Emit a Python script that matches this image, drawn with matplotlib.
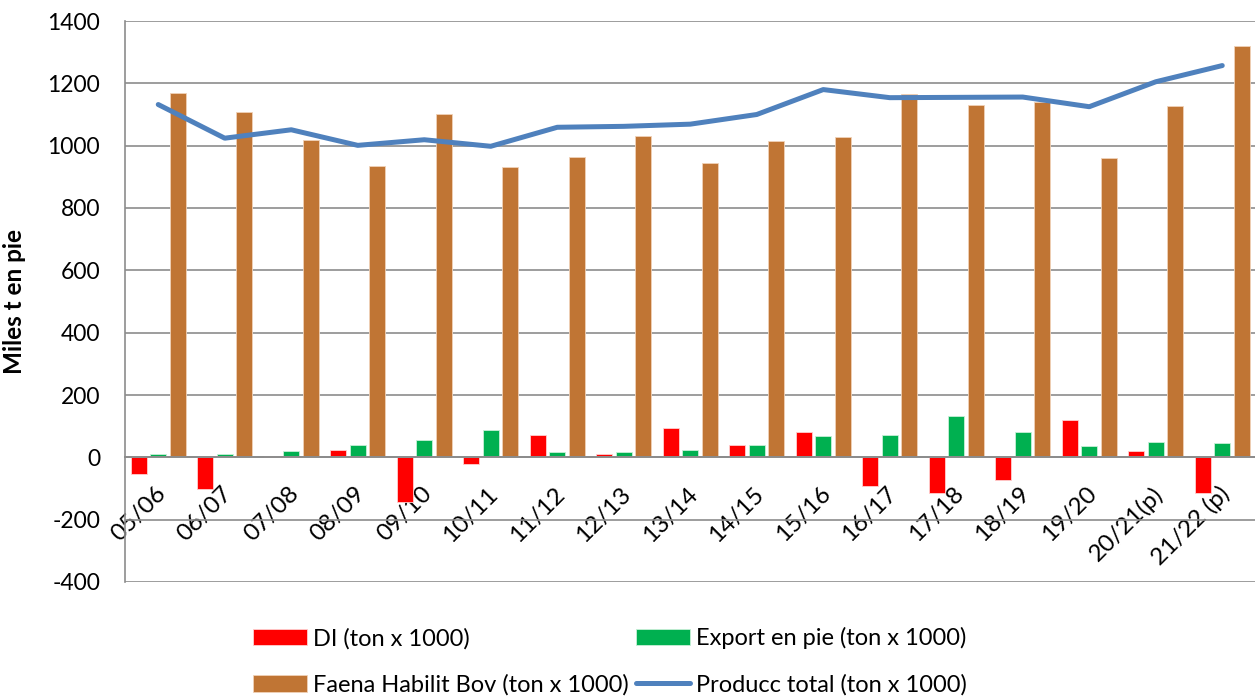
import numpy as np
import matplotlib.pyplot as plt
import matplotlib.transforms as mtransforms

plt.rcParams['font.family'] = ['Lato', 'DejaVu Sans']
plt.rcParams['axes.unicode_minus'] = False

seasons = ['05/06', '06/07', '07/08', '08/09', '09/10', '10/11', '11/12', '12/13', '13/14',
           '14/15', '15/16', '16/17', '17/18', '18/19', '19/20', '20/21(p)', '21/22 (p)']
di = [-52, -101, 5, 23, -143, -20, 72, 12, 94, 39, 82, -93, -114, -72, 119, 20, -116]
export_pie = [10, 12, 20, 41, 56, 88, 18, 17, 24, 41, 68, 72, 134, 81, 36, 50, 45]
faena = [1170, 1108, 1017, 935, 1103, 932, 964, 1030, 943, 1014, 1028, 1167, 1129, 1140, 961, 1126, 1320]
producc_total = [1132, 1024, 1051, 1001, 1019, 998, 1059, 1062, 1069, 1100, 1180, 1154, 1155, 1156, 1125, 1205, 1257]

grid_col = '#8c8c8c'

fig = plt.figure(figsize=(12.55, 7), dpi=100)
ax = fig.add_axes([125 / 1255, 1 - 582 / 700, 1130.5 / 1255, (582 - 21) / 700])

x = np.arange(len(seasons))
w = 0.24
off = 0.29

# bars
b1 = ax.bar(x - off, di, w, color='#ff0000', edgecolor='#ffd0d0', linewidth=0.6, zorder=2,
            label='DI (ton x 1000)')
b2 = ax.bar(x, export_pie, w, color='#00b050', edgecolor='#c8f0d8', linewidth=0.6, zorder=2,
            label='Export en pie (ton x 1000)')
b3 = ax.bar(x + off, faena, w, color='#c07534', edgecolor='#f0d2b8', linewidth=0.6, zorder=2,
            label='Faena Habilit Bov (ton x 1000)')

# total production line
ln, = ax.plot(x, producc_total, color='#4f81bd', lw=3.6, solid_capstyle='round', zorder=3,
              label='Producc total (ton x 1000)')

ax.set_xlim(-0.5, len(seasons) - 0.5)
ax.set_ylim(-400, 1400)
ax.set_yticks(range(-400, 1401, 200))
ax.yaxis.grid(True, color=grid_col, lw=1.2)
ax.set_axisbelow(True)

# axis crosses at zero
ax.spines['bottom'].set_position(('data', 0))
ax.spines['bottom'].set_color(grid_col)
ax.spines['bottom'].set_linewidth(1.4)
ax.spines['bottom'].set_zorder(2.5)
ax.spines['left'].set_color(grid_col)
ax.spines['left'].set_linewidth(1.2)
ax.spines['top'].set_visible(False)
ax.spines['right'].set_visible(False)

ax.set_xticks(x)
ax.set_xticklabels(seasons)
ax.tick_params(axis='x', length=0, pad=21, labelsize=17.5)
ax.tick_params(axis='y', length=0, pad=18, labelsize=16.5)
shift = mtransforms.ScaledTranslation(4 / 100, -4 / 100, fig.dpi_scale_trans)
for lbl in ax.get_xticklabels():
    lbl.set_rotation(45)
    lbl.set_ha('right')
    lbl.set_va('center')
    lbl.set_rotation_mode('anchor')
    lbl.set_transform(lbl.get_transform() + shift)

ax.set_ylabel('Miles t en pie', fontsize=17.5, fontweight='bold')
ax.yaxis.set_label_coords(-0.088, 0.5)

fig.legend([b1, b3, b2, ln],
           ['DI (ton x 1000)', 'Faena Habilit Bov (ton x 1000)',
            'Export en pie (ton x 1000)', 'Producc total (ton x 1000)'],
           ncol=2, loc='center', bbox_to_anchor=(0.486, 0.055), frameon=False,
           fontsize=17, handlelength=2.3, handleheight=0.7, handletextpad=0.25,
           columnspacing=0.3, labelspacing=1.05, borderpad=0)

fig.savefig('out.png', dpi=100)
